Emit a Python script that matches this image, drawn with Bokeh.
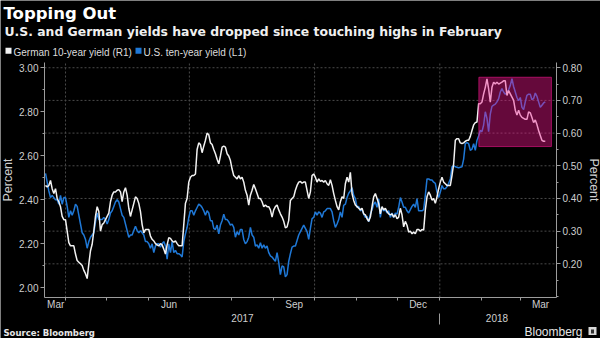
import pandas as pd
from bokeh.plotting import figure
from bokeh.models import (Range1d, LinearAxis, FixedTicker, BoxAnnotation,
                          PrintfTickFormatter)
from bokeh.core.properties import value
from bokeh.embed import file_html
from bokeh.resources import INLINE

# ---------------- data ----------------
title_text = "Topping Out"
subtitle_text = "U.S. and German yields have dropped since touching highs in February"
legend_labels = ["German 10-year yield (R1)", "U.S. ten-year yield (L1)"]
source_text = "Source: Bloomberg"
brand_text = "Bloomberg"

first_date = "2017-03-17 07:00"
last_date = "2018-03-19 12:00"

german_10y = [
    0.44, 0.435, 0.44, 0.455, 0.43, 0.415, 0.43, 0.40, 0.39, 0.375,
    0.345, 0.335, 0.335, 0.30, 0.265, 0.255, 0.255, 0.255, 0.23, 0.21,
    0.205, 0.20, 0.195, 0.18, 0.17, 0.155, 0.20, 0.24, 0.26, 0.30,
    0.345, 0.375, 0.36, 0.30, 0.32, 0.325, 0.335, 0.345, 0.355, 0.39,
    0.41, 0.42, 0.42, 0.425, 0.427, 0.42, 0.39, 0.42, 0.433, 0.41,
    0.37, 0.345, 0.365, 0.385, 0.405, 0.40, 0.385, 0.36, 0.32, 0.295,
    0.305, 0.305, 0.305, 0.285, 0.275, 0.27, 0.262, 0.258, 0.255, 0.262,
    0.258, 0.245, 0.23, 0.258, 0.28, 0.278, 0.27, 0.266, 0.27, 0.262,
    0.255, 0.255, 0.255, 0.32, 0.385, 0.40, 0.45, 0.465, 0.47, 0.47,
    0.475, 0.55, 0.57, 0.565, 0.54, 0.56, 0.578, 0.60, 0.595, 0.57,
    0.565, 0.55, 0.537, 0.52, 0.506, 0.53, 0.557, 0.56, 0.557, 0.537,
    0.53, 0.516, 0.49, 0.47, 0.465, 0.46, 0.47, 0.46, 0.465, 0.45,
    0.425, 0.41, 0.38,
    0.41, 0.425, 0.443, 0.43, 0.415, 0.40, 0.40, 0.39, 0.375, 0.38,
    0.375, 0.375, 0.365, 0.343, 0.365, 0.375, 0.38, 0.365, 0.353, 0.343,
    0.33, 0.31, 0.313, 0.333, 0.394, 0.40, 0.405, 0.425, 0.44, 0.45,
    0.452, 0.447, 0.45, 0.45, 0.425, 0.40, 0.42, 0.47, 0.475, 0.465,
    0.45, 0.46, 0.452, 0.455, 0.45, 0.455, 0.445, 0.44, 0.457, 0.44,
    0.415, 0.394, 0.375, 0.365, 0.39, 0.405, 0.40, 0.445, 0.465, 0.45,
    0.48, 0.415, 0.394,
    0.38, 0.375, 0.37, 0.365, 0.37, 0.353, 0.35, 0.338, 0.33, 0.343,
    0.375, 0.405, 0.415, 0.40, 0.385, 0.353, 0.375, 0.365, 0.37, 0.36,
    0.353, 0.35, 0.353, 0.343, 0.35, 0.338, 0.343, 0.37, 0.35, 0.313,
    0.33, 0.318, 0.297, 0.30, 0.292, 0.297, 0.292, 0.305, 0.305, 0.30,
    0.305, 0.303, 0.365, 0.405, 0.42, 0.41, 0.395, 0.40, 0.385, 0.405,
    0.43, 0.45, 0.465, 0.45, 0.445, 0.44, 0.44, 0.44, 0.47, 0.506,
    0.578, 0.583, 0.583, 0.57, 0.568, 0.57, 0.575, 0.578, 0.578, 0.59,
    0.608, 0.625, 0.632, 0.634, 0.69, 0.69, 0.695, 0.72, 0.74, 0.766,
    0.735, 0.695, 0.74, 0.756, 0.75, 0.756, 0.75, 0.753, 0.756, 0.76,
    0.76, 0.715, 0.73, 0.72, 0.71, 0.70, 0.67, 0.655, 0.67, 0.655,
    0.648, 0.645, 0.642, 0.642, 0.665, 0.662, 0.648, 0.632, 0.64, 0.626,
    0.608, 0.593, 0.578, 0.575, 0.575,
]

us_10y = [
    2.52, 2.48, 2.44, 2.41, 2.42, 2.41, 2.40, 2.40, 2.38, 2.42,
    2.38, 2.41, 2.41, 2.37, 2.32, 2.35, 2.33, 2.35, 2.38, 2.37,
    2.33, 2.29, 2.25, 2.24, 2.22, 2.18, 2.21, 2.23, 2.24, 2.25,
    2.30, 2.34, 2.31, 2.31, 2.31, 2.32, 2.31, 2.29, 2.31, 2.34,
    2.35, 2.37, 2.39, 2.40, 2.39, 2.36, 2.33, 2.32, 2.29, 2.26,
    2.23, 2.24, 2.24, 2.26, 2.28, 2.26, 2.25, 2.26, 2.25, 2.24,
    2.21, 2.21, 2.20, 2.18, 2.20, 2.16, 2.19, 2.20, 2.20, 2.185,
    2.20, 2.21, 2.19, 2.13, 2.20, 2.16, 2.21, 2.16, 2.17, 2.155,
    2.155, 2.15, 2.14, 2.21, 2.245, 2.275, 2.32, 2.35, 2.35, 2.33,
    2.35, 2.365, 2.38, 2.375, 2.365, 2.35, 2.33, 2.35, 2.34, 2.305,
    2.305, 2.27, 2.265, 2.285, 2.245, 2.285, 2.305, 2.335, 2.31, 2.31,
    2.30, 2.285, 2.29, 2.275, 2.23, 2.255, 2.24, 2.265, 2.265, 2.22,
    2.20, 2.21, 2.23,
    2.275, 2.24, 2.23, 2.19, 2.195, 2.18, 2.205, 2.18, 2.195, 2.18,
    2.19, 2.16, 2.145, 2.14, 2.13, 2.12, 2.16, 2.115, 2.06, 2.10,
    2.095, 2.05, 2.06, 2.12, 2.155, 2.185, 2.19, 2.19, 2.215, 2.24,
    2.255, 2.27, 2.285, 2.27, 2.255, 2.22, 2.27, 2.315, 2.32, 2.345,
    2.33, 2.345, 2.34, 2.32, 2.345, 2.35, 2.36, 2.36, 2.36, 2.345,
    2.305, 2.275, 2.29, 2.31, 2.345, 2.32, 2.375, 2.38, 2.41, 2.43,
    2.44, 2.455, 2.42,
    2.405, 2.366, 2.37, 2.35, 2.355, 2.335, 2.32, 2.325, 2.30, 2.335,
    2.355, 2.38, 2.39, 2.366, 2.405, 2.32, 2.366, 2.35, 2.355, 2.34,
    2.35, 2.32, 2.34, 2.32, 2.34, 2.335, 2.366, 2.41, 2.39, 2.366,
    2.366, 2.35, 2.34, 2.355, 2.37, 2.38, 2.366, 2.405, 2.35, 2.35,
    2.35, 2.355, 2.42, 2.495, 2.495, 2.49, 2.49, 2.48, 2.475, 2.435,
    2.41, 2.435, 2.465, 2.45, 2.45, 2.46, 2.475, 2.495, 2.55, 2.555,
    2.55, 2.548, 2.545, 2.548, 2.55, 2.585, 2.655, 2.66, 2.655, 2.625,
    2.63, 2.655, 2.625, 2.67, 2.69, 2.715, 2.71, 2.74, 2.80, 2.77,
    2.71, 2.79, 2.825, 2.83, 2.835, 2.845, 2.86, 2.89, 2.905, 2.89,
    2.88, 2.885, 2.90, 2.92, 2.95, 2.915, 2.89, 2.865, 2.85, 2.865,
    2.82, 2.81, 2.845, 2.875, 2.88, 2.88, 2.855, 2.86, 2.885, 2.87,
    2.845, 2.82, 2.83, 2.84, 2.845,
]

left_ticks = [2.00, 2.20, 2.40, 2.60, 2.80, 3.00]
left_minor = [2.10, 2.30, 2.50, 2.70, 2.90]
right_ticks = [0.20, 0.30, 0.40, 0.50, 0.60, 0.70, 0.80]
right_minor = [0.10, 0.15, 0.25, 0.35, 0.45, 0.55, 0.65, 0.75]
month_labels = ["Mar", "Jun", "Sep", "Dec", "Mar"]
month_label_dates = ["2017-03-24 18:00", "2017-06-16", "2017-09-16", "2017-12-16", "2018-03-16"]
month_starts = ["2017-04-01", "2017-05-01", "2017-06-01", "2017-07-01", "2017-08-01",
                "2017-09-01", "2017-10-01", "2017-11-01", "2017-12-01", "2018-01-01",
                "2018-02-01", "2018-03-01"]
quarter_starts = ["2017-04-01", "2017-07-01", "2017-10-01", "2018-01-01"]
year_labels = ["2017", "2018"]
year_label_dates = ["2017-08-09", "2018-02-12"]
year_break = "2018-01-01"

# highlighted window (Feb-Mar 2018 highs), in dates and left-axis percent
box_start, box_end = "2018-01-29 17:00", "2018-03-24"
box_low, box_high = 2.642, 2.957

# ---------------- layout / styling ----------------
W, H = 600, 338
FL, FR, FT, FB = 44, 556, 62, 297        # plot area inside the canvas (px)
YEAR_AXIS_PX = 313                        # where the year row starts

X0, X1 = pd.Timestamp("2017-03-16 13:10").value / 1e6, pd.Timestamp("2018-03-27 18:00").value / 1e6
Y0, Y1 = 1.956, 3.024                     # left axis (US) visible range
R0, R1 = 0.097, 0.816                     # right axis (German) visible range

BG = "black"
AX = "#9c9c9c"
TXT = "#cfcfcf"
GRID = "#4a4a4a"
US_COLOR = "#1f78d6"
DE_COLOR = "#f2f2f2"
SANS = "Liberation Sans"
BOLD_FONT = "DejaVu Sans"


def ms(s):
    return pd.Timestamp(s).value / 1e6


mpp = (X1 - X0) / (FR - FL)
ypp = (Y1 - Y0) / (FB - FT)
rpp = (R1 - R0) / (FB - FT)

p = figure(width=W, height=H, output_backend="svg", toolbar_location=None,
           x_axis_type=None, y_axis_type=None,
           x_range=Range1d(X0 - FL * mpp, X1 + (W - FR) * mpp),
           y_range=Range1d(Y0 - (H - FB) * ypp, Y1 + FT * ypp),
           background_fill_color=BG, border_fill_color=BG, min_border=0)
p.outline_line_color = None
p.extra_y_ranges = {"right": Range1d(R0 - (H - FB) * rpp, R1 + FT * rpp),
                    "py": Range1d(H, 0)}
p.extra_x_ranges = {"px": Range1d(0, W)}

# dotted grid
p.segment(x0=X0, x1=X1, y0=right_ticks, y1=right_ticks, y_range_name="right",
          line_color=GRID, line_dash="2 2", line_width=1)
qs = [ms(d) for d in quarter_starts]
p.segment(x0=qs, x1=qs, y0=Y0, y1=Y1, line_color=GRID, line_dash="2 2", line_width=1)


def style_y(ax):
    ax.axis_line_color = AX
    ax.major_tick_line_color = AX
    ax.minor_tick_line_color = AX
    ax.major_tick_in = 0
    ax.major_tick_out = 4
    ax.minor_tick_in = 0
    ax.minor_tick_out = 2
    ax.major_label_standoff = 2
    ax.major_label_text_color = TXT
    ax.major_label_text_font = SANS
    ax.major_label_text_font_size = "10px"
    ax.axis_label = "Percent"
    ax.axis_label_standoff = 1
    ax.axis_label_text_font = SANS
    ax.axis_label_text_font_size = "12.5px"
    ax.axis_label_text_font_style = "normal"
    ax.axis_label_text_color = TXT


la = LinearAxis(ticker=FixedTicker(ticks=left_ticks, minor_ticks=left_minor),
                formatter=PrintfTickFormatter(format="%.2f"),
                fixed_location=X0, bounds=(Y0, Y1))
style_y(la)
p.add_layout(la, "left")

ra = LinearAxis(y_range_name="right",
                ticker=FixedTicker(ticks=right_ticks, minor_ticks=right_minor),
                formatter=PrintfTickFormatter(format="%.2f"),
                fixed_location=X1, bounds=(R0, R1))
style_y(ra)
ra.axis_label_standoff = 2
p.add_layout(ra, "right")

mticks = [ms(d) for d in month_label_dates]
ba = LinearAxis(ticker=FixedTicker(ticks=mticks, minor_ticks=[ms(d) for d in month_starts]),
                major_label_overrides={t: s for t, s in zip(mticks, month_labels)},
                fixed_location=Y0, bounds=(X0, X1))
ba.axis_line_color = AX
ba.major_tick_line_color = None
ba.major_tick_in = 0
ba.major_tick_out = 0
ba.minor_tick_line_color = AX
ba.minor_tick_in = 0
ba.minor_tick_out = 3
ba.major_label_standoff = -2
ba.major_label_text_color = TXT
ba.major_label_text_font = SANS
ba.major_label_text_font_size = "10px"
p.add_layout(ba, "below")

yticks = [ms(d) for d in year_label_dates]
ya = LinearAxis(ticker=FixedTicker(ticks=yticks, minor_ticks=[ms(year_break)]),
                major_label_overrides={t: s for t, s in zip(yticks, year_labels)},
                fixed_location=Y0 - (YEAR_AXIS_PX - FB) * ypp, bounds=(X0, X1))
ya.axis_line_color = None
ya.major_tick_line_color = None
ya.major_tick_in = 0
ya.major_tick_out = 0
ya.minor_tick_line_color = AX
ya.minor_tick_in = 0
ya.minor_tick_out = 11
ya.major_label_standoff = -11
ya.major_label_text_color = TXT
ya.major_label_text_font = SANS
ya.major_label_text_font_size = "10px"
p.add_layout(ya, "below")

# series
us_dates = pd.date_range(first_date, last_date, periods=len(us_10y))
de_dates = pd.date_range(first_date, last_date, periods=len(german_10y))
p.line(us_dates, us_10y, line_color=US_COLOR, line_width=1.5)
p.line(de_dates, german_10y, line_color=DE_COLOR, line_width=1.5, y_range_name="right")

p.add_layout(BoxAnnotation(left=ms(box_start), right=ms(box_end), bottom=box_low, top=box_high,
                           fill_color="#f0168c", fill_alpha=0.42,
                           line_color="#f0168c", line_alpha=0.6, line_width=1))

# header and footer texts (pixel ranges)
px = dict(x_range_name="px", y_range_name="py")
p.text(x=[3], y=[13.3], text=[title_text], text_font=value(BOLD_FONT),
       text_font_style="bold", text_font_size="16.5px", text_color="white",
       text_baseline="alphabetic", **px)
p.text(x=[4], y=[31.4], text=[subtitle_text], text_font=value(BOLD_FONT),
       text_font_style="bold", text_font_size="12.4px", text_color="#f0f0f0",
       text_baseline="alphabetic", **px)
p.rect(x=[8, 138], y=[50.3, 50.3], width=6, height=6,
       fill_color=[DE_COLOR, US_COLOR], line_color=None, **px)
p.text(x=[13, 143], y=[52.2, 52.2], text=legend_labels, text_font=value(SANS),
       text_font_size="10px", text_color="#dcdcdc", text_baseline="alphabetic", **px)
p.text(x=[3], y=[332], text=[source_text], text_font=value(BOLD_FONT),
       text_font_style="bold", text_font_size="8.5px", text_color="#e6e6e6",
       text_baseline="alphabetic", **px)
p.text(x=[524], y=[331], text=[brand_text], text_font=value(SANS),
       text_font_size="12px", text_color="#e6e6e6", text_baseline="alphabetic", **px)
p.rect(x=[592], y=[330.5], width=8, height=8, fill_color="#d8d8d8", line_color=None, **px)
p.rect(x=[592], y=[331], width=3, height=4, fill_color="#333333", line_color=None, **px)

open("out.html", "w").write(file_html(p, INLINE))
